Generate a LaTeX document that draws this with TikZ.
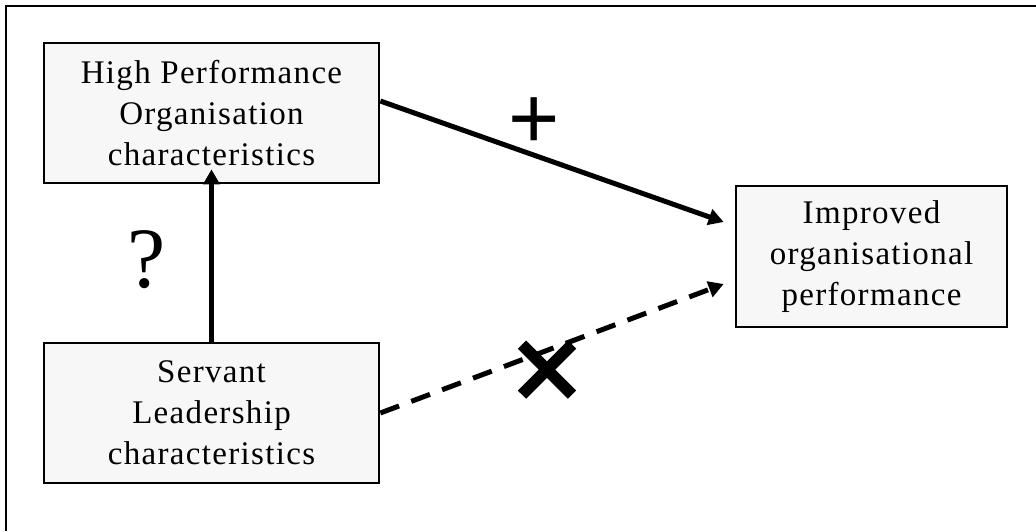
\documentclass[tikz,border=0pt]{standalone}
\usepackage{fontspec}
\setmainfont{Liberation Serif}
\newfontfamily\boxfont[LetterSpace=4]{Liberation Serif}
\newfontfamily\signfont{Liberation Sans}
\newfontfamily\symfont[FakeBold=2.5]{DejaVu Sans}
\usetikzlibrary{arrows.meta}
\definecolor{boxfill}{HTML}{F7F7F7}
\tikzset{
  conceptbox/.style={draw=black, line width=2.7pt, fill=boxfill, minimum width=335pt, inner sep=0pt,
    align=center, font=\boxfont\fontsize{33}{41}\selectfont},
  link/.style={line width=5pt, -{Triangle[length=15pt,width=16pt]}},
  dashlink/.style={link, dash pattern=on 20pt off 13pt},
}
\begin{document}
\begin{tikzpicture}[x=1pt,y=-1pt]
\useasboundingbox (0,0) rectangle (1036,531);
% frame (top and left edges only)
\draw[line width=2pt] (6,531) -- (6,6) -- (1036,6);
% boxes
\node[conceptbox, minimum width=335pt, minimum height=140pt] (H) at (211.5,113) {High Performance\\Organisation\\characteristics};
\node[conceptbox, minimum width=335pt, minimum height=140pt] (S) at (211.5,413) {Servant\\Leadership\\characteristics};
\node[conceptbox, minimum width=271pt, minimum height=141pt] (I) at (871.5,256.5) {Improved\\organisational\\performance};
% connector end points
\coordinate (hstart) at ([yshift=12pt]H.east);
\coordinate (htip) at ([xshift=-11pt,yshift=34.5pt]I.west);
\coordinate (stip) at ([xshift=-11pt,yshift=-27.5pt]I.west);
\coordinate (vtip) at ([yshift=15pt]H.south);
% connectors
\draw[link] (S.north) -- (vtip);
\draw[link] (hstart) -- (htip);
\draw[dashlink] (S.east) -- (stip);
% signs
\node[inner sep=0pt, font=\signfont\fontsize{88}{88}\selectfont] (plus) at (534,123) {+};
\node[inner sep=0pt, font=\fontsize{86}{86}\selectfont] (q) at (147,260) {?};
\node[inner sep=0pt, font=\symfont\fontsize{94}{94}\selectfont] (cross) at (547,373) {✕};
\end{tikzpicture}
\end{document}
